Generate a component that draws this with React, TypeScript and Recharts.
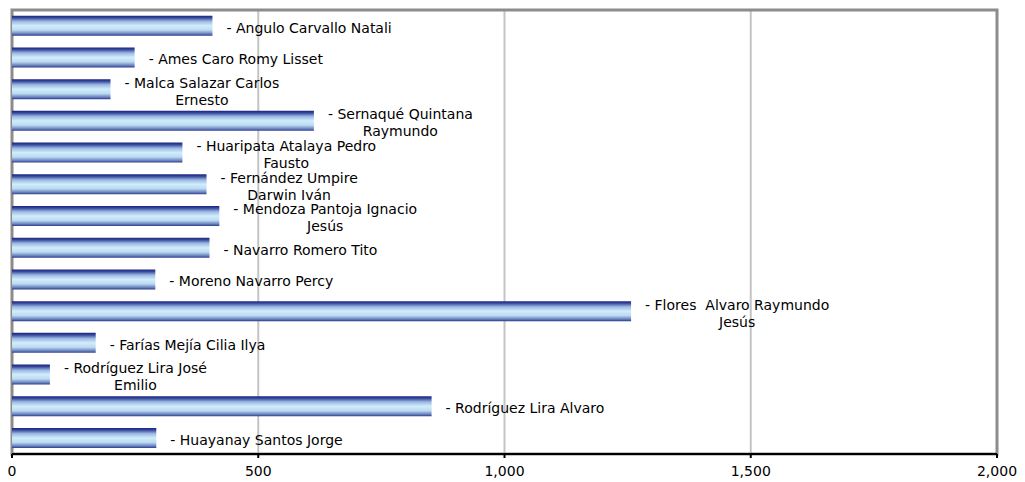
import React from 'react';
import { BarChart, Bar, XAxis, YAxis, CartesianGrid, LabelList, ReferenceArea } from 'recharts';

const names = [
    'Angulo Carvallo Natali',
    'Ames Caro Romy Lisset',
    'Malca Salazar Carlos\nErnesto',
    'Sernaqué Quintana\nRaymundo',
    'Huaripata Atalaya Pedro\nFausto',
    'Fernández Umpire\nDarwin Iván',
    'Mendoza Pantoja Ignacio\nJesús',
    'Navarro Romero Tito',
    'Moreno Navarro Percy',
    'Flores  Alvaro Raymundo\nJesús',
    'Farías Mejía Cilia Ilya',
    'Rodríguez Lira José\nEmilio',
    'Rodríguez Lira Alvaro',
    'Huayanay Santos Jorge',
];

const values = [407, 249, 200, 613, 346, 395, 421, 401, 291, 1257, 170, 77, 852, 293];

const xTicks = [0, 500, 1000, 1500, 2000];

const data = names.map((name, i) => ({ name, value: values[i] }));

const FONT = '"DejaVu Sans", Verdana, sans-serif';

let ctx: CanvasRenderingContext2D | null = null;
function measure(text: string) {
    if (!ctx) ctx = document.createElement('canvas').getContext('2d');
    if (!ctx) return text.length * 8;
    ctx.font = `14px ${FONT}`;
    return ctx.measureText(text).width;
}

function NameLabel(props: any) {
    const { x, y, width, height, value } = props;
    const lines = String(value).split('\n');
    lines[0] = '- ' + lines[0];
    const w = measure(lines[0].replace(/ /g, '\u00a0'));
    const cx = x + width + 14 + w / 2;
    const cy = y + height / 2 + 2;
    const lh = 17;
    const top = cy - ((lines.length - 1) * lh) / 2;
    return (
        <text
            x={cx}
            y={top}
            textAnchor="middle"
            dominantBaseline="central"
            fontFamily={FONT}
            fontSize={14}
            fill="#000"
            style={{ whiteSpace: 'pre' }}
        >
            {lines.map((l, i) => (
                <tspan key={i} x={cx} dy={i === 0 ? 0 : lh}>
                    {l}
                </tspan>
            ))}
        </text>
    );
}

export default function App() {
    return (
        <div style={{ position: 'absolute', left: 0, top: 0, background: '#fff' }}>
            <BarChart
                width={1025}
                height={482}
                data={data}
                layout="vertical"
                barCategoryGap="18%"
                margin={{ top: 10, right: 28, left: 12, bottom: 0 }}
            >
                <defs>
                    <linearGradient id="barGrad" x1="0" y1="0" x2="0" y2="1">
                        <stop offset="0%" stopColor="#1c2480" />
                        <stop offset="10%" stopColor="#34469a" />
                        <stop offset="28%" stopColor="#9ab8e2" />
                        <stop offset="50%" stopColor="#d2ecfb" />
                        <stop offset="72%" stopColor="#bcdaf2" />
                        <stop offset="90%" stopColor="#6a82be" />
                        <stop offset="100%" stopColor="#2c3a8c" />
                    </linearGradient>
                </defs>
                <CartesianGrid horizontal={false} stroke="#c4c4c4" strokeWidth={2} />
                <ReferenceArea x1={0} x2={2000} fill="none" stroke="#8c8c8c" strokeWidth={3} ifOverflow="extendDomain" />
                <XAxis
                    type="number"
                    domain={[0, 2000]}
                    ticks={xTicks}
                    interval={0}
                    height={28}
                    axisLine={{ stroke: '#000', strokeWidth: 2 }}
                    tickLine={{ stroke: '#000', strokeWidth: 2 }}
                    tickSize={4}
                    tickMargin={8}
                    tick={{ fill: '#000', fontSize: 14, fontFamily: FONT }}
                    tickFormatter={(v: number) => v.toLocaleString('en-US')}
                />
                <YAxis
                    type="category"
                    dataKey="name"
                    width={0}
                    tick={false}
                    tickLine={false}
                    axisLine={{ stroke: '#8c8c8c', strokeWidth: 3 }}
                />
                <Bar dataKey="value" fill="url(#barGrad)" isAnimationActive={false}>
                    <LabelList dataKey="name" content={NameLabel} />
                </Bar>
            </BarChart>
        </div>
    );
}
